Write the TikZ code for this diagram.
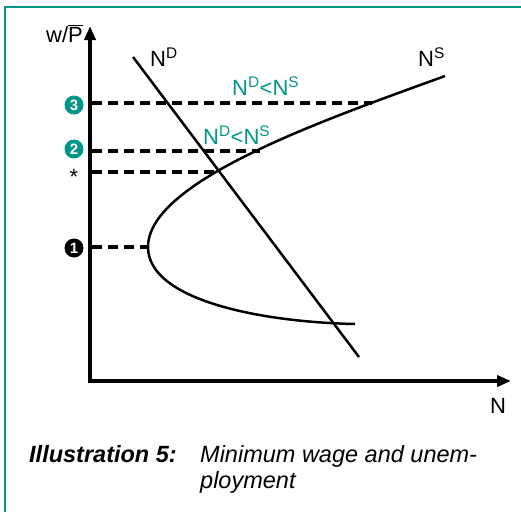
\documentclass[tikz,border=0pt]{standalone}
\usepackage{fontspec}
\setmainfont{Liberation Sans}
\definecolor{ilteal}{RGB}{0,150,136}
\usetikzlibrary{arrows.meta,positioning}

\begin{document}
\begin{tikzpicture}[x=1pt, y=-1pt,
  every node/.style={inner sep=0pt, font=\fontsize{22}{26}\selectfont},
  wagemark/.style={circle, fill=ilteal, minimum size=19pt, text=white, font=\fontsize{15}{15}\selectfont\bfseries},
  floorline/.style={line width=3.5pt, dash pattern=on 10pt off 6pt},
  gaplabel/.style={anchor=base west, text=ilteal},
  capfont/.style={anchor=base west, font=\fontsize{23.5}{27}\selectfont\itshape}]
  \useasboundingbox (0,0) rectangle (521,512);
  % frame
  \draw[ilteal, line width=2pt] (521,7) -- (5,7) -- (5,512);

  % axes
  \coordinate (ytip) at (90,26);
  \coordinate (orig) at (90,381);
  \coordinate (xtip) at (511,381);
  \draw[line width=4pt, {Triangle[length=14pt,width=11pt]}-{Triangle[length=14pt,width=11pt]}] (ytip) -- (orig) -- (xtip);
  \node[anchor=base east] (ylab) at (83,42) {w/$\overline{\mbox{P}}$};
  \node[anchor=base west] (xlab) at (490,413) {N};

  % labour demand and supply
  \coordinate (ndtop) at (133,57);
  \coordinate (ndbot) at (359,357);
  \draw[line width=2.5pt] (ndtop) -- (ndbot);
  \node[anchor=base west] (ndlab) at (150,66) {N\textsuperscript{D}};
  \coordinate (nstop) at (445,76);
  \coordinate (nsvert) at (148,247);
  \coordinate (nsbot) at (355,324);
  \draw[line width=2.5pt] (nstop) .. controls (330,118) and (148,180) .. (nsvert)
    .. controls (148,300) and (260,322) .. (nsbot);
  \node[anchor=base west] (nslab) at (418,66) {N\textsuperscript{S}};

  % wage levels
  \node[wagemark] (m3) at (74,105) {3};
  \node[wagemark] (m2) at (74,149) {2};
  \node[anchor=base] (ms) at (74,184) {*};
  \node[wagemark, fill=black] (m1) at (74,248) {1};
  \coordinate (a3) at (92,103);  \coordinate (c3) at (372,103);
  \coordinate (a2) at (92,151);  \coordinate (c2) at (260,151);
  \coordinate (as) at (92,172);  \coordinate (cs) at (220,172);
  \coordinate (a1) at (92,247);  \coordinate (c1) at (147,247);
  \draw[floorline] (a3) -- (c3);
  \draw[floorline] (a2) -- (c2);
  \draw[floorline] (as) -- (cs);
  \draw[floorline] (a1) -- (c1);
  \node[gaplabel] (gap3) at (232,95) {N\textsuperscript{D}<N\textsuperscript{S}};
  \node[gaplabel] (gap2) at (203,144) {N\textsuperscript{D}<N\textsuperscript{S}};

  % caption
  \node[capfont, font=\fontsize{23.5}{27}\selectfont\bfseries\itshape] (capa) at (29,462) {Illustration 5:};
  \node[capfont] (capb) at (200,462) {Minimum wage and unem-};
  \node[capfont] (capc) at (200,488) {ployment};
\end{tikzpicture}
\end{document}
